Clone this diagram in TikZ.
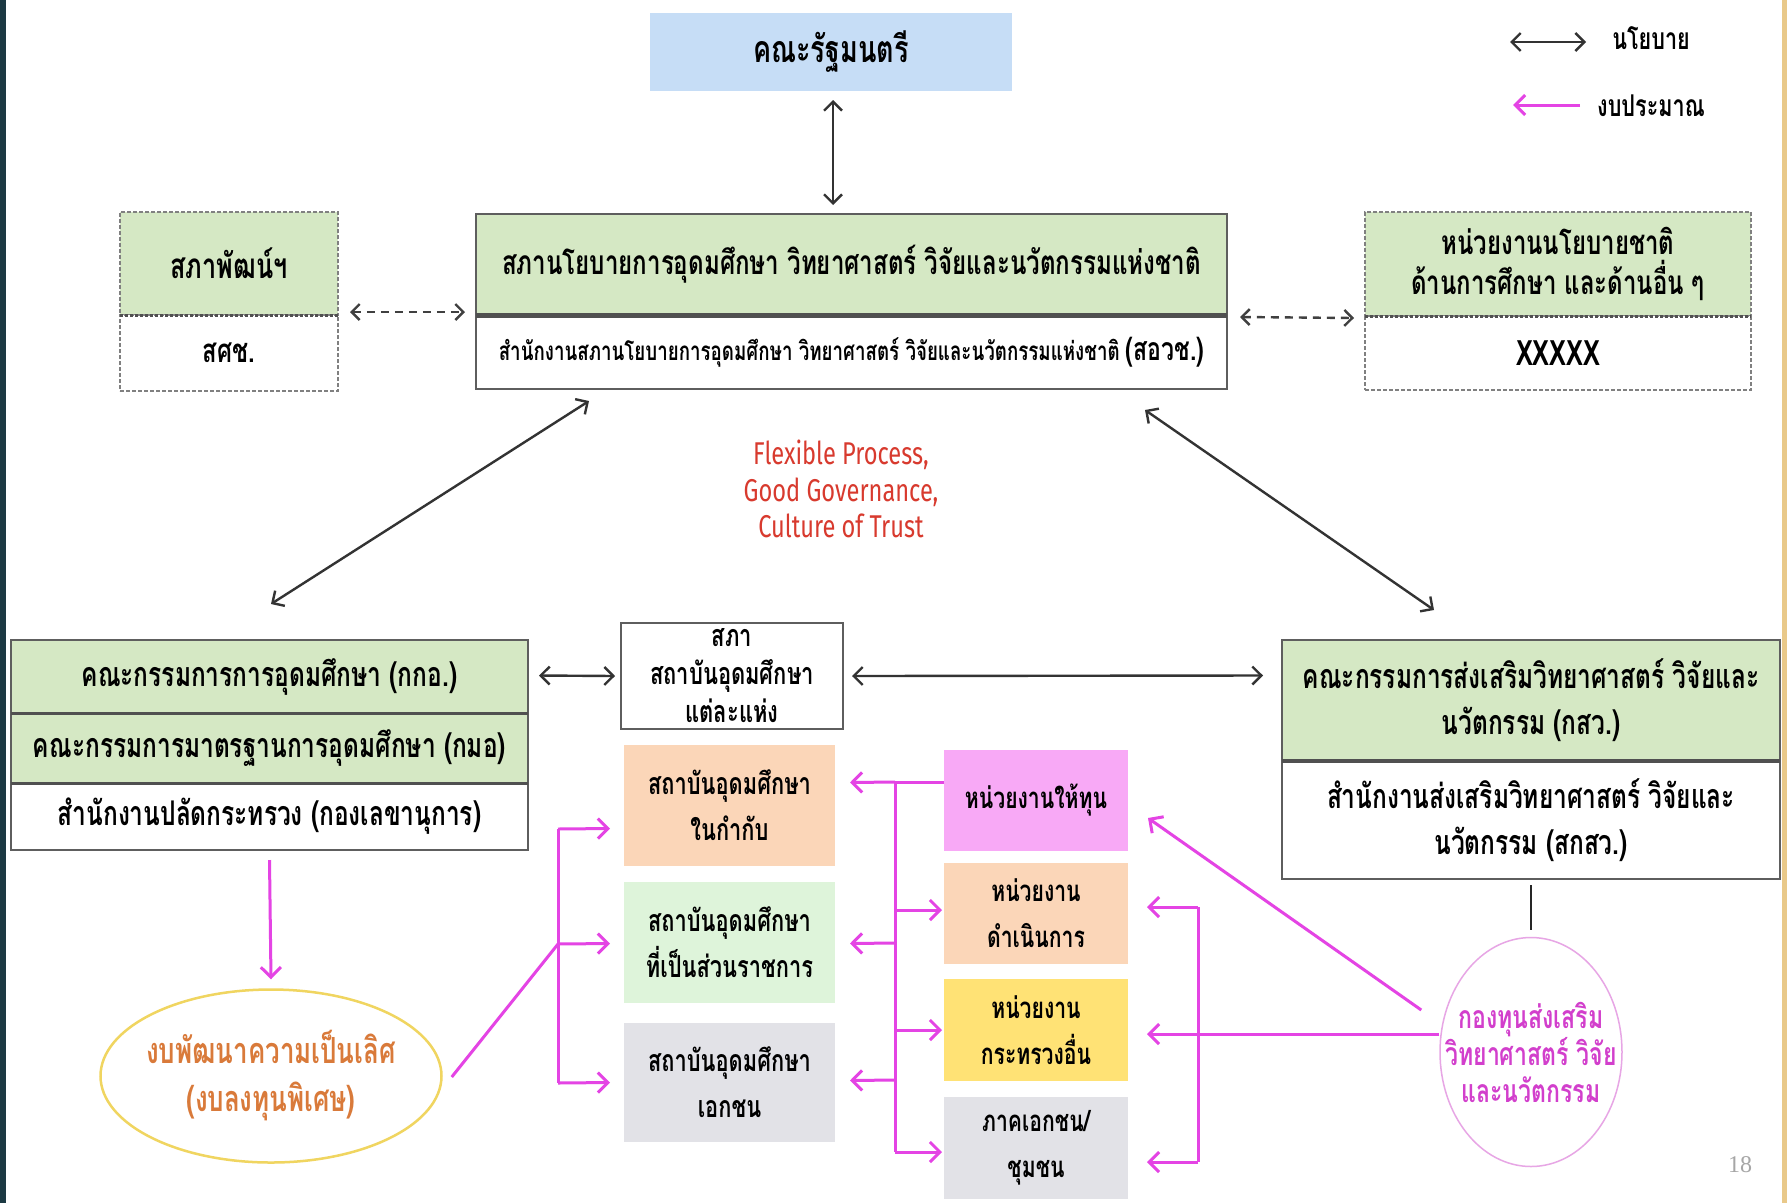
\documentclass[tikz,border=0pt]{standalone}
\usepackage{fontspec}
\setmainfont[Script=Thai,FakeStretch=0.72]{Loma}
\newfontfamily\latinfont[FakeStretch=0.75]{Fira Sans}
\newfontfamily\numfont{Liberation Serif}
\usetikzlibrary{arrows.meta,calc,shapes.geometric}
\definecolor{gfill}{HTML}{D5E8C4}
\definecolor{bluef}{HTML}{C6DDF6}
\definecolor{peach}{HTML}{FBD6B8}
\definecolor{lgreen}{HTML}{DEF4DA}
\definecolor{lgray}{HTML}{E2E2E7}
\definecolor{pinkf}{HTML}{F8A9F6}
\definecolor{yellf}{HTML}{FFE275}
\definecolor{mag}{HTML}{E444E4}
\definecolor{redt}{HTML}{D83A2E}
\definecolor{oranget}{HTML}{D97A3A}
\definecolor{ellb}{HTML}{F0D560}
\definecolor{circt}{HTML}{D23FCC}
\definecolor{circb}{HTML}{E7A6E5}
\definecolor{edge}{HTML}{5E5E5E}
\definecolor{sepc}{HTML}{505050}
\definecolor{stripL}{HTML}{1C3943}
\definecolor{stripR}{HTML}{E9C98A}
\newcommand\fsz[2]{\fontsize{#1}{#2}\bfseries\selectfont}
\newcommand\fsn[2]{\fontsize{#1}{#2}\selectfont}
\begin{document}
\begin{tikzpicture}[x=1pt,y=-1pt,
  cell/.style={inner sep=0pt, outer sep=0pt, align=center, text=black},
  solidcell/.style={cell, draw=edge, line width=2pt},
  dashcell/.style={cell, draw=gray, line width=1.6pt, dash pattern=on 4pt off 2pt},
  pol/.style={draw=black!80, line width=2.4pt, {Straight Barb[length=9pt,width=18pt]}-{Straight Barb[length=9pt,width=18pt]}},
  dpol/.style={draw=black!75, line width=2.4pt, dash pattern=on 8pt off 6pt, {Straight Barb[length=8pt,width=16pt]}-{Straight Barb[length=8pt,width=16pt]}},
  bud/.style={draw=mag, line width=3pt, -{Straight Barb[length=10pt,width=20pt]}},
  budline/.style={draw=mag, line width=3pt},
]
\useasboundingbox (0,0) rectangle (1787,1203);
\fill[white] (0,0) rectangle (1787,1203);
\fill[stripL] (0,0) rectangle (6,1203);
\fill[stripR] (1782,0) rectangle (1787,1203);

% top
\node[cell, fill=bluef, minimum width=362, minimum height=78, font=\fsz{37.5}{40}] (cab) at (831,52) {คณะรัฐมนตรี};

\node[solidcell, fill=gfill, minimum width=751, minimum height=101, font=\fsz{33.5}{38}] (mainT) at (851.5,264.5) {สภานโยบายการอุดมศึกษา วิทยาศาสตร์ วิจัยและนวัตกรรมแห่งชาติ};
\node[solidcell, fill=white, minimum width=751, minimum height=74, font=\fsz{26}{30}] (mainB) at (851.5,352) {สำนักงานสภานโยบายการอุดมศึกษา วิทยาศาสตร์ วิจัยและนวัตกรรมแห่งชาติ {\fsz{32}{36}(สอวช.)}};
\draw[sepc, line width=5pt] (mainT.south west) -- (mainT.south east);

\node[dashcell, fill=gfill, minimum width=218, minimum height=103, font=\fsz{35}{38}] (spT) at (229,263.5) {สภาพัฒน์ฯ};
\node[dashcell, fill=white, minimum width=218, minimum height=76, font=\fsz{33}{38}] (spB) at (229,353) {สศช.};
\draw[sepc, line width=3pt, dash pattern=on 3pt off 2pt] (spT.south west) -- (spT.south east);

\node[dashcell, fill=gfill, minimum width=386, minimum height=104, font=\fsz{33.3}{40}] (npT) at (1558,264) {หน่วยงานนโยบายชาติ\\ด้านการศึกษา และด้านอื่น ๆ};
\node[dashcell, fill=white, minimum width=386, minimum height=74, font=\fsz{35}{38}] (npB) at (1558,353) {XXXXX};
\draw[sepc, line width=3pt, dash pattern=on 3pt off 2pt] (npT.south west) -- (npT.south east);

% legend
\coordinate (lg1a) at (1510,42);
\coordinate (lg1b) at (1586,42);
\coordinate (lg2a) at (1580,105);
\coordinate (lg2b) at (1513,105);
\draw[pol] (lg1a) -- (lg1b);
\draw[bud] (lg2a) -- (lg2b);
\node[cell, font=\fsz{30}{36}] (lgt1) at (1651,38) {นโยบาย};
\node[cell, font=\fsz{30}{36}] (lgt2) at (1651,106) {งบประมาณ};

% red text
\node[cell, text=redt, font=\latinfont\fsn{31.5}{36.5}] (motto) at (841,489) {Flexible Process,\\Good Governance,\\Culture of Trust};

% left block
\node[solidcell, fill=gfill, minimum width=517, minimum height=73, font=\fsz{34}{36}] (lA) at (269.5,676.5) {คณะกรรมการการอุดมศึกษา (กกอ.)};
\node[solidcell, fill=gfill, minimum width=517, minimum height=70, font=\fsz{34}{36}] (lB) at (269.5,748) {คณะกรรมการมาตรฐานการอุดมศึกษา (กมอ)};
\node[solidcell, fill=white, minimum width=517, minimum height=67, font=\fsz{34}{36}] (lC) at (269.5,816.5) {สำนักงานปลัดกระทรวง (กองเลขานุการ)};
\draw[sepc, line width=3pt] (lA.south west) -- (lA.south east);
\draw[sepc, line width=3pt] (lB.south west) -- (lB.south east);

\node[solidcell, fill=white, minimum width=222, minimum height=106, font=\fsz{30.5}{38}] (sapha) at (732,676) {สภา\\สถาบันอุดมศึกษา\\แต่ละแห่ง};

% right block
\node[solidcell, fill=gfill, minimum width=498, minimum height=121, font=\fsz{34}{46}] (rA) at (1531,700.5) {คณะกรรมการส่งเสริมวิทยาศาสตร์ วิจัยและ\\นวัตกรรม (กสว.)};
\node[solidcell, fill=white, minimum width=498, minimum height=118, font=\fsz{34}{46}] (rB) at (1531,820) {สำนักงานส่งเสริมวิทยาศาสตร์ วิจัยและ\\นวัตกรรม (สกสว.)};
\draw[sepc, line width=4pt] (rA.south west) -- (rA.south east);

% column A
\node[cell, fill=peach, minimum width=211, minimum height=121, font=\fsz{30.3}{46}] (A1) at (729.5,805.5) {สถาบันอุดมศึกษา\\ในกำกับ};
\node[cell, fill=lgreen, minimum width=211, minimum height=121, font=\fsz{30.3}{46}] (A2) at (729.5,942.5) {สถาบันอุดมศึกษา\\ที่เป็นส่วนราชการ};
\node[cell, fill=lgray, minimum width=211, minimum height=119, font=\fsz{30.3}{46}] (A3) at (729.5,1082.5) {สถาบันอุดมศึกษา\\เอกชน};

% column B
\node[cell, fill=pinkf, minimum width=184, minimum height=101, font=\fsz{29.4}{46}] (B1) at (1036,800) {หน่วยงานให้ทุน};
\node[cell, fill=peach, minimum width=184, minimum height=101, font=\fsz{29.4}{46}] (B2) at (1036,913) {หน่วยงาน\\ดำเนินการ};
\node[cell, fill=yellf, minimum width=184, minimum height=102, font=\fsz{29.4}{46}] (B3) at (1036,1030) {หน่วยงาน\\กระทรวงอื่น};
\node[cell, fill=lgray, minimum width=184, minimum height=102, font=\fsz{29.4}{46}] (B4) at (1036,1148) {ภาคเอกชน/\\ชุมชน};

% ellipse and circle
\node[ellipse, draw=ellb, line width=2.5pt, inner sep=0pt, minimum width=341, minimum height=173] (ell) at (271,1076) {};
\node[cell, text=oranget, font=\fsz{36}{48}] (elltxt) at (ell.center) {งบพัฒนาความเป็นเลิศ\\(งบลงทุนพิเศษ)};
\node[ellipse, draw=circb, line width=1.5pt, inner sep=0pt, minimum width=182, minimum height=229] (fund) at (1531,1052) {};
\node[cell, text=circt, font=\fsz{32}{37}] (fundtxt) at (fund.center) {กองทุนส่งเสริม\\วิทยาศาสตร์ วิจัย\\และนวัตกรรม};

\node[cell, text=gray!70, font=\numfont\fsn{24}{28}] (pg) at (1740,1165) {18};

% policy arrows
\draw[pol, shorten <=9pt, shorten >=9pt] ($(cab.south)+(2,0)$) -- ($(cab.south |- mainT.north)+(2,0)$);
\draw[dpol] ($(spT.south east)+(12,-3)$) -- ($(mainT.south west)+(-11,-3)$);
\draw[dpol] ($(mainT.south east)+(13,2)$) -- ($(npT.south west)+(-11,2)$);
\draw[pol] ($(mainB.south west)+(113,12)$) -- ($(lA.north west)+(260,-36)$);
\draw[pol] ($(mainB.south west)+(669,21)$) -- ($(rA.north west)+(152,-30)$);
\draw[pol] ($(lA.east)+(11,-1)$) -- ($(sapha.west)+(-6,0)$);
\draw[pol] ($(sapha.east)+(9,0)$) -- ($(rA.west)+(-19,-25)$);
\draw[black!85, line width=2.4pt] ($(rB.south)+(0,6)$) -- ($(fund.north)+(0,-7)$);

% budget arrows left
\draw[bud] ($(lC.south)+(0,10)$) -- ($(ell.north)+(0,-9)$);
\coordinate (jL) at (558,944);
\coordinate (jLt) at (558,829);
\coordinate (jLb) at (558,1083);
\draw[budline] ($(ell.east)+(9,1)$) -- (jL);
\draw[budline] (jLt) -- (jLb);
\draw[bud] (jLt) -- ($(A1.west)+(-14,23)$);
\draw[bud] (jL) -- ($(A2.west)+(-14,1)$);
\draw[bud] (jLb) -- ($(A3.west)+(-14,0)$);

% middle bracket
\coordinate (mT) at (895,782);
\coordinate (mM) at (895,943);
\coordinate (mL) at (895,1080);
\coordinate (m2) at (895,910);
\coordinate (m3) at (895,1030);
\coordinate (mB) at (895,1152);
\draw[budline] ($(B1.west)+(0,-18)$) -- (mT);
\draw[budline] (mT) -- (mB);
\draw[bud] (mT) -- ($(A1.east)+(15,-23)$);
\draw[bud] (mM) -- ($(A2.east)+(15,1)$);
\draw[bud] (mL) -- ($(A3.east)+(15,-2)$);
\draw[bud] (m2) -- ($(B2.west)+(-2,-3)$);
\draw[bud] (m3) -- ($(B3.west)+(-2,0)$);
\draw[bud] (mB) -- ($(B4.west)+(-2,4)$);

% right bracket
\coordinate (rT) at (1198,907);
\coordinate (rBt) at (1198,1162);
\draw[budline] (rT) -- (rBt);
\draw[bud] (rT) -- ($(B2.east)+(19,-6)$);
\draw[bud] (rBt) -- ($(B4.east)+(19,14)$);
\draw[bud] ($(fund.west)+(0,-18)$) -- ($(B3.east)+(19,4)$);
\draw[bud] ($(fund.west)+(-18,-42)$) -- ($(B1.east)+(20,18)$);
\end{tikzpicture}
\end{document}
